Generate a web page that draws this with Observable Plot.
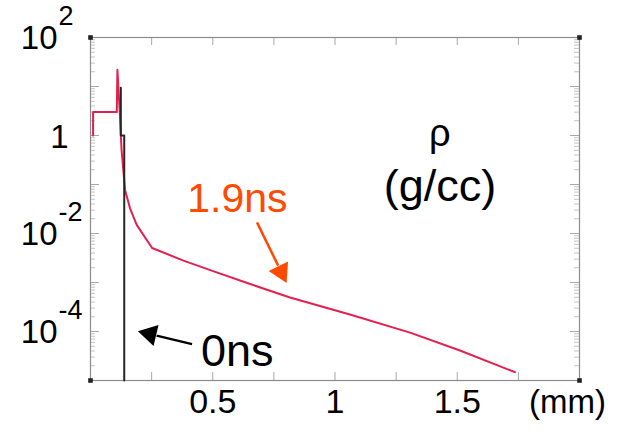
<!DOCTYPE html>
<html>
<head>
<meta charset="utf-8">
<script src="https://cdn.jsdelivr.net/npm/d3@7"></script>
<script src="https://cdn.jsdelivr.net/npm/@observablehq/plot@0.6"></script>
<style>
  html, body { margin: 0; padding: 0; background: #fff; }
  #chart svg { display: block; }
</style>
</head>
<body>
<div id="chart"></div>
<script>
// Density profiles (g/cc) versus depth (mm)
const xDomain = [0, 2];
const yDomain = [1e-5, 1e2];

// 1.9 ns profile
const t19X = [0.0106, 0.0106, 0.1075, 0.110, 0.119, 0.127, 0.1415, 0.162, 0.189, 0.252, 0.380, 0.516, 0.653, 0.816, 1.061, 1.307, 1.511, 1.736];
const t19Y = [1.0, 3.0, 3.0, 22, 3.4, 0.51, 0.0767, 0.0323, 0.0150, 0.00506, 0.00280, 0.00161, 0.000931, 0.000494, 0.000222, 9.5e-5, 4.1e-5, 1.48e-5];

// 0 ns profile
const t0X = [0.124, 0.124, 0.138, 0.138];
const t0Y = [9.4, 1.0, 1.0, 1e-5];

// Axis ticks and labels
const xTickValues = [0.25, 0.5, 0.75, 1, 1.25, 1.5, 1.75];
const xTickLabels = [0.5, 1, 1.5];
const xUnit = "(mm)";
const yTickValues = [100, 1, 0.01, 0.0001];
const yTickBase = ["10", "1", "10", "10"];
const yTickExp = ["2", "", "-2", "-4"];
const yDecades = [1e-5, 1e-4, 1e-3, 1e-2, 1e-1, 1, 10, 100];

// Annotations
const quantityLabel = ["ρ", "(g/cc)"];
const quantityX = [1.429, 1.429];
const quantityY = [1.09, 0.0927];
const quantitySize = [38, 45];
const label19 = { text: "1.9ns", x: 0.601, y: 0.0501 };
const label0 = { text: "0ns", x: 0.600, y: 3.98e-5 };
const arrow19 = { x1: 0.681, y1: 0.0169, x2: 0.7675, y2: 0.00221, hx: 0.7796, hy: 0.00166, angle: 153.8 };
const arrow0 = { x1: 0.4154, y1: 5.54e-5, x2: 0.2703, y2: 8.24e-5, hx: 0.2433, hy: 8.85e-5, angle: 283.3 };

const W = 620, H = 434;
const mL = 90, mT = 37, mR = 41, mB = 54;
const innerW = W - mL - mR, innerH = H - mT - mB;

const red = t19X.map((x, i) => ({x, y: t19Y[i]}));
const black = t0X.map((x, i) => ({x, y: t0Y[i]}));
const yLabels = yTickValues.map((v, i) => ({v, base: yTickBase[i], exp: yTickExp[i]}));
const minor = yDecades.slice(0, -1).flatMap(d => [2, 3, 4, 5, 6, 7, 8, 9].map(k => d * k));
const corners = [
  {x: xDomain[0], y: yDomain[0]}, {x: xDomain[1], y: yDomain[0]},
  {x: xDomain[0], y: yDomain[1]}, {x: xDomain[1], y: yDomain[1]}
];
const quantity = quantityLabel.map((t, i) => ({t, x: quantityX[i], y: quantityY[i], size: quantitySize[i]}));

const font = "'Liberation Sans', Arial, Helvetica, sans-serif";
const tickColor = "#a8a8a8";
const minorColor = "#c4c4c4";
const orange = "#ff4a00";

const chart = Plot.plot({
  width: W,
  height: H,
  marginLeft: mL,
  marginTop: mT,
  marginRight: mR,
  marginBottom: mB,
  style: { fontFamily: font, background: "#fff", color: "#000" },
  x: { domain: xDomain, axis: null },
  y: { type: "log", domain: yDomain, axis: null },
  marks: [
    // inward ticks on all four sides
    Plot.ruleY(yDecades, { y: d => d, insetRight: innerW - 9, stroke: tickColor }),
    Plot.ruleY(yDecades, { y: d => d, insetLeft: innerW - 9, stroke: tickColor }),
    Plot.ruleY(minor, { y: d => d, insetRight: innerW - 5, stroke: minorColor }),
    Plot.ruleY(minor, { y: d => d, insetLeft: innerW - 5, stroke: minorColor }),
    Plot.ruleX(xTickValues, { x: d => d, insetTop: innerH - 8, stroke: tickColor }),
    Plot.ruleX(xTickValues, { x: d => d, insetBottom: innerH - 8, stroke: tickColor }),
    Plot.frame({ stroke: "#8c8c8c", strokeWidth: 1.2 }),
    Plot.dot(corners, { x: "x", y: "y", symbol: "square", r: 2.6, fill: "#222", stroke: "none" }),

    // profiles
    Plot.line(red, { x: "x", y: "y", stroke: "#e3204f", strokeWidth: 2 }),
    Plot.line(black, { x: "x", y: "y", stroke: "#262626", strokeWidth: 2 }),

    // y tick labels (base and raised exponent)
    Plot.text(yLabels.filter(d => d.exp), { y: "v", text: "base", frameAnchor: "left", textAnchor: "end", dx: -33, dy: 1, fontSize: 33 }),
    Plot.text(yLabels.filter(d => d.exp), { y: "v", text: "exp", frameAnchor: "left", textAnchor: "start", dx: -32, dy: -21.5, fontSize: 27 }),
    Plot.text(yLabels.filter(d => !d.exp), { y: "v", text: "base", frameAnchor: "left", textAnchor: "end", dx: -22, dy: 2, fontSize: 33 }),

    // x tick labels and unit
    Plot.text(xTickLabels, { x: d => d, text: d => String(d), frameAnchor: "bottom", dy: 32, fontSize: 34 }),
    Plot.text([xUnit], { x: xDomain[1], text: d => d, frameAnchor: "bottom", dx: -12, dy: 32, fontSize: 33 }),

    // quantity label
    Plot.text(quantity.slice(0, 1), { x: "x", y: "y", text: "t", fontSize: quantitySize[0] }),
    Plot.text(quantity.slice(1), { x: "x", y: "y", text: "t", fontSize: quantitySize[1] }),

    // time annotations with arrows
    Plot.text([label19], { x: "x", y: "y", text: "text", fill: orange, fontSize: 41 }),
    Plot.link([arrow19], { x1: "x1", y1: "y1", x2: "x2", y2: "y2", stroke: orange, strokeWidth: 2.5 }),
    Plot.dot([arrow19], { x: "hx", y: "hy", symbol: "triangle", rotate: "angle", r: 8, fill: orange, stroke: "none" }),
    Plot.text([label0], { x: "x", y: "y", text: "text", fill: "#000", fontSize: 45 }),
    Plot.link([arrow0], { x1: "x1", y1: "y1", x2: "x2", y2: "y2", stroke: "#000", strokeWidth: 2.2 }),
    Plot.dot([arrow0], { x: "hx", y: "hy", symbol: "triangle", rotate: "angle", r: 8, fill: "#000", stroke: "none" })
  ]
});

document.getElementById("chart").appendChild(chart);
</script>
</body>
</html>
